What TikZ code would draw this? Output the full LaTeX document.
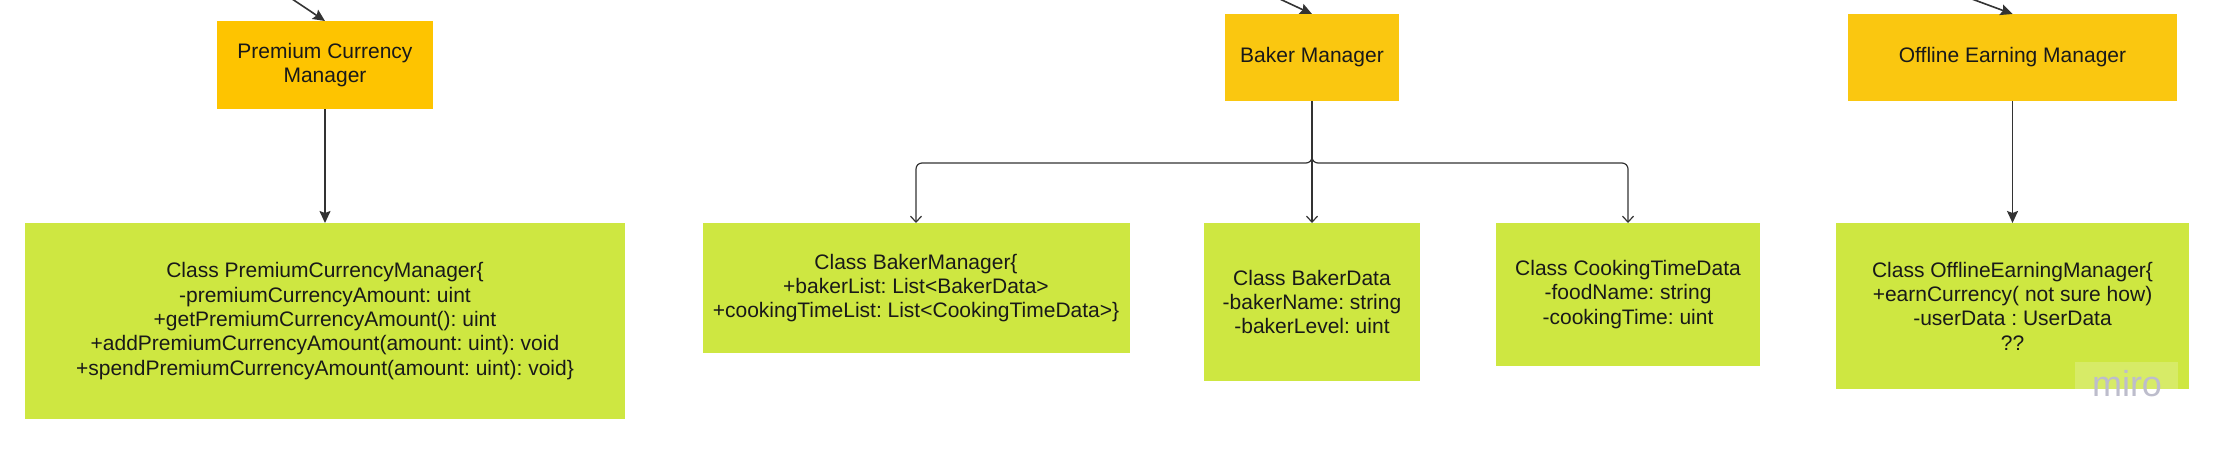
\documentclass[tikz,border=0pt]{standalone}
\usepackage{fontspec}
\setmainfont{Liberation Sans}
\usetikzlibrary{arrows.meta}
\definecolor{premyel}{HTML}{FEC400}
\definecolor{mgryel}{HTML}{FAC710}
\definecolor{lime}{HTML}{CEE741}
\definecolor{ink}{HTML}{333333}
\definecolor{miroc}{HTML}{BDBDCC}
\frenchspacing
\begin{document}
\begin{tikzpicture}[x=1pt,y=-1pt,
  box/.style={rectangle,inner sep=0pt,outer sep=0pt,align=center,
    font=\fontsize{21}{24.3}\selectfont,text=black!90},
  mgr/.style={box,fill=mgryel},
  cls/.style={box,fill=lime},
  solidarrow/.style={draw=ink,line width=1.6pt,-{Stealth[length=12pt,width=11pt,inset=2pt]}},
  openarrow/.style={draw=ink,line width=1.2pt,-{Straight Barb[length=6pt,width=11pt]},rounded corners=6pt},
  plainline/.style={draw=ink,line width=1.2pt}]
\useasboundingbox[fill=white] (0,0) rectangle (2213,451);
% manager boxes
\node[mgr,fill=premyel,minimum width=216pt,minimum height=88pt] (pcm) at (325,65) {Premium Currency\\Manager};
\node[mgr,minimum width=174pt,minimum height=87pt] (bm) at (1312,57.5) {Baker Manager};
\node[mgr,minimum width=329pt,minimum height=87pt] (oem) at (2012.5,57.5) {Offline Earning Manager};
% class boxes
\node[cls,minimum width=600pt,minimum height=196pt] (pcc) at (325,321) {Class PremiumCurrencyManager\{\\-premiumCurrencyAmount: uint\\+getPremiumCurrencyAmount(): uint\\+addPremiumCurrencyAmount(amount: uint): void\\+spendPremiumCurrencyAmount(amount: uint): void\}};
\node[cls,minimum width=427pt,minimum height=130pt] (bkm) at (916,288) {Class BakerManager\{\\+bakerList: List<BakerData>\\+cookingTimeList: List<CookingTimeData>\}};
\node[cls,minimum width=216pt,minimum height=158pt] (bd) at (1312,302) {Class BakerData\\-bakerName: string\\-bakerLevel: uint};
\node[cls,minimum width=264pt,minimum height=143pt] (ct) at (1628,294.5) {Class CookingTimeData\\-foodName: string\\-cookingTime: uint};
\node[cls,minimum width=353pt,minimum height=166pt] (oec) at (2012.5,306) {Class OfflineEarningManager\{\\+earnCurrency( not sure how)\\-userData : UserData\\??};
% watermark
\node[rectangle,fill=white,fill opacity=0.2,minimum width=103pt,minimum height=38pt,inner sep=0pt] (wmbox) at (2126.5,381) {};
\node[inner sep=0pt,text=miroc,font=\fontsize{36}{36}\selectfont] (wm) at (2127,384) {miro};
% incoming arrows from above
\coordinate (pin) at (278,-10.5);
\coordinate (bin) at (1262,-9.3);
\coordinate (oin) at (1954,-7.6);
\draw[solidarrow] (pin) -- (pcm.north);
\draw[solidarrow] (bin) -- (bm.north);
\draw[solidarrow] (oin) -- (oem.north);
% manager to class arrows
\draw[solidarrow] (pcm.south) -- (pcc.north);
\draw[solidarrow] (oem.south) -- (oec.north);
% baker branching
\coordinate (bj) at (1312,163);
\draw[openarrow] (bm.south) -- (bj) -| (bkm.north);
\draw[openarrow] (bm.south) -- (bj) -| (ct.north);
\draw[plainline,-{Straight Barb[length=6pt,width=11pt]}] (bm.south) -- (bd.north);
\end{tikzpicture}
\end{document}
